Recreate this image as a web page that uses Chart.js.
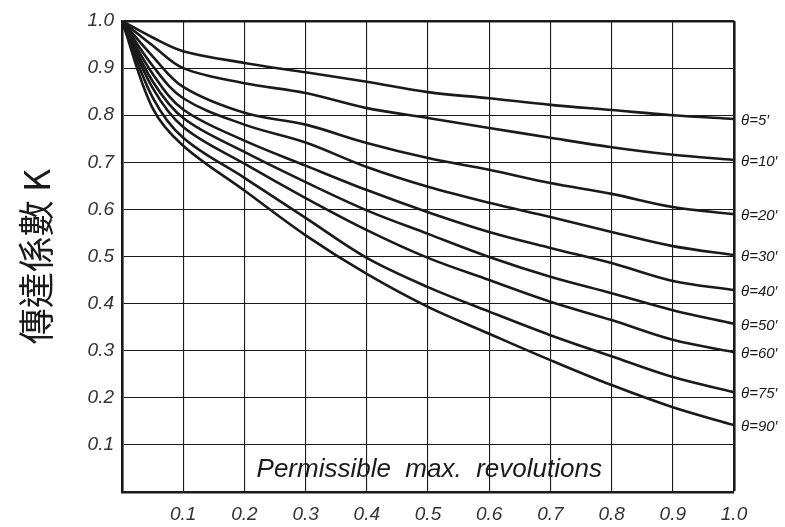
<!DOCTYPE html>
<html>
<head>
<meta charset="utf-8">
<script src="https://cdn.jsdelivr.net/npm/chart.js@4"></script>
<style>
  html, body { margin: 0; padding: 0; background: #fff; }
  canvas { display: block; }
</style>
</head>
<body>
<canvas id="kChart" width="785" height="527"></canvas>
<script>
// permissible max. revolutions (ratio)
const revolutions = [0, 0.05, 0.1, 0.2, 0.3, 0.4, 0.5, 0.6, 0.7, 0.8, 0.9, 1.0];

// transmission coefficient K per misalignment angle
const k5  = [1, 0.965, 0.936, 0.911, 0.891, 0.871, 0.849, 0.836, 0.822, 0.811, 0.800, 0.792];
const k10 = [1, 0.948, 0.900, 0.868, 0.847, 0.815, 0.794, 0.773, 0.752, 0.732, 0.716, 0.705];
const k20 = [1, 0.925, 0.860, 0.805, 0.780, 0.741, 0.709, 0.684, 0.656, 0.633, 0.605, 0.590];
const k30 = [1, 0.905, 0.836, 0.780, 0.742, 0.690, 0.648, 0.614, 0.584, 0.552, 0.522, 0.503];
const k40 = [1, 0.888, 0.812, 0.746, 0.693, 0.641, 0.594, 0.552, 0.518, 0.486, 0.448, 0.429];
const k50 = [1, 0.872, 0.794, 0.722, 0.658, 0.598, 0.548, 0.499, 0.457, 0.422, 0.386, 0.357];
const k60 = [1, 0.858, 0.775, 0.697, 0.624, 0.556, 0.497, 0.450, 0.404, 0.365, 0.323, 0.297];
const k75 = [1, 0.838, 0.752, 0.667, 0.582, 0.497, 0.435, 0.383, 0.333, 0.288, 0.244, 0.212];
const k90 = [1, 0.815, 0.735, 0.640, 0.545, 0.463, 0.393, 0.336, 0.280, 0.227, 0.180, 0.142];

const angleLabels = ["θ=5′", "θ=10′", "θ=20′", "θ=30′", "θ=40′", "θ=50′", "θ=60′", "θ=75′", "θ=90′"];
const series = [k5, k10, k20, k30, k40, k50, k60, k75, k90];

const xTicks = [0.1, 0.2, 0.3, 0.4, 0.5, 0.6, 0.7, 0.8, 0.9, 1.0];
const yTicks = [0.1, 0.2, 0.3, 0.4, 0.5, 0.6, 0.7, 0.8, 0.9, 1.0];

const xTitle = "Permissible  max.  revolutions";
const yTitle = "傳達係數 K";

const ink = "#1a1a1a";

// angle labels at curve ends + caption inside plot
const curveLabels = {
  id: "curveLabels",
  afterDraw(chart) {
    const ctx = chart.ctx;
    const area = chart.chartArea;
    ctx.save();
    ctx.fillStyle = ink;
    ctx.font = "italic 15px 'Liberation Sans', Arial, sans-serif";
    ctx.textAlign = "left";
    ctx.textBaseline = "middle";
    chart.data.datasets.forEach((ds, i) => {
      const pts = chart.getDatasetMeta(i).data;
      const last = pts[pts.length - 1];
      ctx.fillText(ds.label, area.right + 7, last.y + 2);
    });

    const xs = chart.scales.x;
    const ys = chart.scales.y;
    ctx.font = "italic 26px 'Liberation Sans', Arial, sans-serif";
    ctx.textAlign = "center";
    ctx.fillText(xTitle, xs.getPixelForValue(0.502), ys.getPixelForValue(0.048));
    ctx.restore();
  }
};

new Chart(document.getElementById("kChart"), {
  type: "line",
  data: {
    datasets: series.map((vals, i) => ({
      label: angleLabels[i],
      data: vals.map((v, j) => ({ x: revolutions[j], y: v })),
      borderColor: ink,
      borderWidth: 2.6,
      pointRadius: 0,
      fill: false,
      tension: 0.35
    }))
  },
  options: {
    responsive: false,
    animation: false,
    layout: { padding: { top: 21, right: 51, left: 0, bottom: 0 } },
    plugins: { legend: { display: false }, tooltip: { enabled: false } },
    scales: {
      x: {
        type: "linear",
        min: 0,
        max: 1,
        afterFit: s => { s.height = 35; },
        afterBuildTicks: s => { s.ticks = [0].concat(xTicks).map(v => ({ value: v })); },
        grid: {
          color: ink,
          lineWidth: c => (c.tick && c.tick.value === 1 ? 2.6 : 1.1),
          drawTicks: false
        },
        border: { color: ink, width: 2.6 },
        ticks: {
          padding: 11,
          color: "#333",
          font: { family: "'Liberation Sans', Arial, sans-serif", size: 19, style: "italic" },
          callback: v => (v === 0 ? "" : v.toFixed(1))
        }
      },
      y: {
        type: "linear",
        min: 0,
        max: 1,
        afterFit: s => { s.width = 122; },
        afterBuildTicks: s => { s.ticks = [0].concat(yTicks).map(v => ({ value: v })); },
        grid: {
          color: ink,
          lineWidth: c => (c.tick && c.tick.value === 1 ? 2.6 : 1.1),
          drawTicks: false
        },
        border: { color: ink, width: 2.6 },
        ticks: {
          padding: 8,
          color: "#333",
          font: { family: "'Liberation Sans', Arial, sans-serif", size: 19, style: "italic" },
          callback: v => (v === 0 ? "" : v.toFixed(1))
        },
        title: {
          display: true,
          text: yTitle,
          color: ink,
          padding: { top: 15, bottom: 0 },
          font: { family: "'Noto Sans CJK TC', 'Noto Sans CJK SC', sans-serif", size: 36 }
        }
      }
    }
  },
  plugins: [curveLabels]
});
</script>
</body>
</html>
